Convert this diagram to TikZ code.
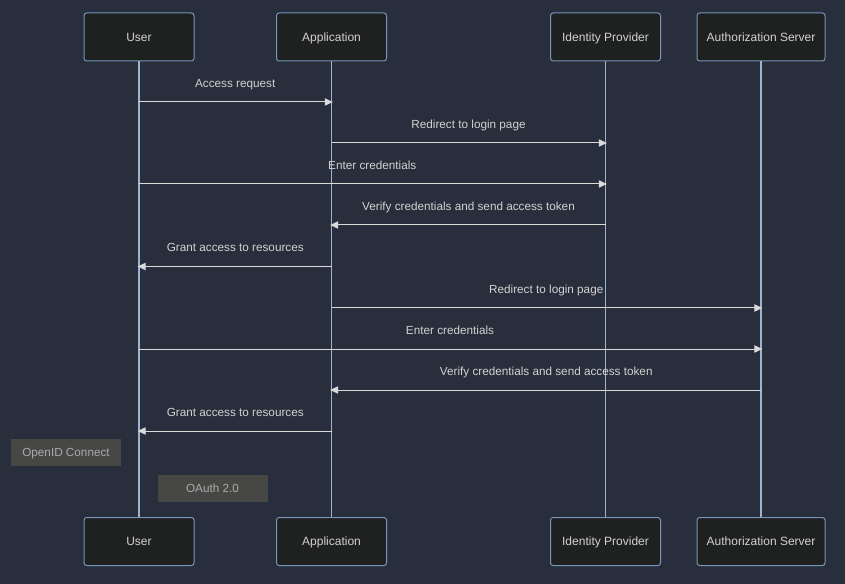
\documentclass[tikz,border=0pt]{standalone}
\usepackage{fontspec}
\setmainfont{Liberation Sans}
\usetikzlibrary{positioning,arrows.meta}

\definecolor{bgdark}{RGB}{41,46,60}
\definecolor{boxfill}{RGB}{31,32,32}
\definecolor{boxline}{RGB}{120,150,185}
\definecolor{lifeline}{RGB}{155,180,212}
\definecolor{msgline}{RGB}{218,218,218}
\definecolor{msgtext}{RGB}{210,210,210}
\definecolor{notefill}{RGB}{71,72,70}
\definecolor{notetext}{RGB}{170,170,170}

\tikzset{
  actor/.style={draw=boxline, fill=boxfill, line width=0.75pt, rounded corners=2pt,
    minimum width=82.5pt, minimum height=36pt, text=msgtext, inner sep=0pt,
    text height=6.4pt, text depth=0pt, font=\fontsize{9}{11}\selectfont},
  life/.style={draw=lifeline, line width=0.9pt},
  msg/.style={draw=msgline, line width=0.75pt, shorten >=-1pt, -{Triangle[length=6pt,width=5.5pt]}},
  lbl/.style={text=msgtext, font=\fontsize{8.8}{10}\selectfont, anchor=base, yshift=11pt, inner sep=0pt},
  note/.style={fill=notefill, text=notetext, minimum width=82.5pt, minimum height=20.25pt,
    inner sep=0pt, text height=6.2pt, text depth=0pt, font=\fontsize{8.8}{10}\selectfont}
}

\begin{document}
\begin{tikzpicture}[x=0.75pt, y=-0.75pt]
  % Background
  \fill[bgdark] (0,0) rectangle (845,584);
  \useasboundingbox (0,0) rectangle (845,584);

  % Participants (top)
  \node[actor] (userT) at (139,37) {User};
  \node[actor] (appT) at (331.5,37) {Application};
  \node[actor] (idpT) at (605.5,37) {Identity Provider};
  \node[actor, minimum width=96pt] (asT) at (761,37) {Authorization Server};

  % Participants (bottom)
  \node[actor] (userB) at (139,541.5) {User};
  \node[actor] (appB) at (331.5,541.5) {Application};
  \node[actor] (idpB) at (605.5,541.5) {Identity Provider};
  \node[actor, minimum width=96pt] (asB) at (761,541.5) {Authorization Server};

  % Lifelines
  \draw[life] (userT) -- (userB);
  \draw[life] (appT) -- (appB);
  \draw[life] (idpT) -- (idpB);
  \draw[life] (asT) -- (asB);

  % Message rows
  \coordinate (m1) at (0,102);
  \coordinate (m2) at (0,143);
  \coordinate (m3) at (0,184);
  \coordinate (m4) at (0,225);
  \coordinate (m5) at (0,266.5);
  \coordinate (m6) at (0,308);
  \coordinate (m7) at (0,349);
  \coordinate (m8) at (0,390);
  \coordinate (m9) at (0,431);

  % Identity provider flow
  \draw[msg] (userT |- m1) -- node[lbl] {Access request} (appT |- m1);
  \draw[msg] (appT |- m2) -- node[lbl] {Redirect to login page} (idpT |- m2);
  \draw[msg] (userT |- m3) -- node[lbl] {Enter credentials} (idpT |- m3);
  \draw[msg] (idpT |- m4) -- node[lbl] {Verify credentials and send access token} (appT |- m4);
  \draw[msg] (appT |- m5) -- node[lbl] {Grant access to resources} (userT |- m5);

  % Authorization server flow
  \draw[msg] (appT |- m6) -- node[lbl] {Redirect to login page} (asT |- m6);
  \draw[msg] (userT |- m7) -- node[lbl] {Enter credentials} (asT |- m7);
  \draw[msg] (asT |- m8) -- node[lbl] {Verify credentials and send access token} (appT |- m8);
  \draw[msg] (appT |- m9) -- node[lbl] {Grant access to resources} (userT |- m9);

  % Notes
  \node[note] (oidc) at (66,452.5) {OpenID Connect};
  \node[note] (oauth) at (212.5,488.5) {OAuth 2.0};
\end{tikzpicture}
\end{document}
